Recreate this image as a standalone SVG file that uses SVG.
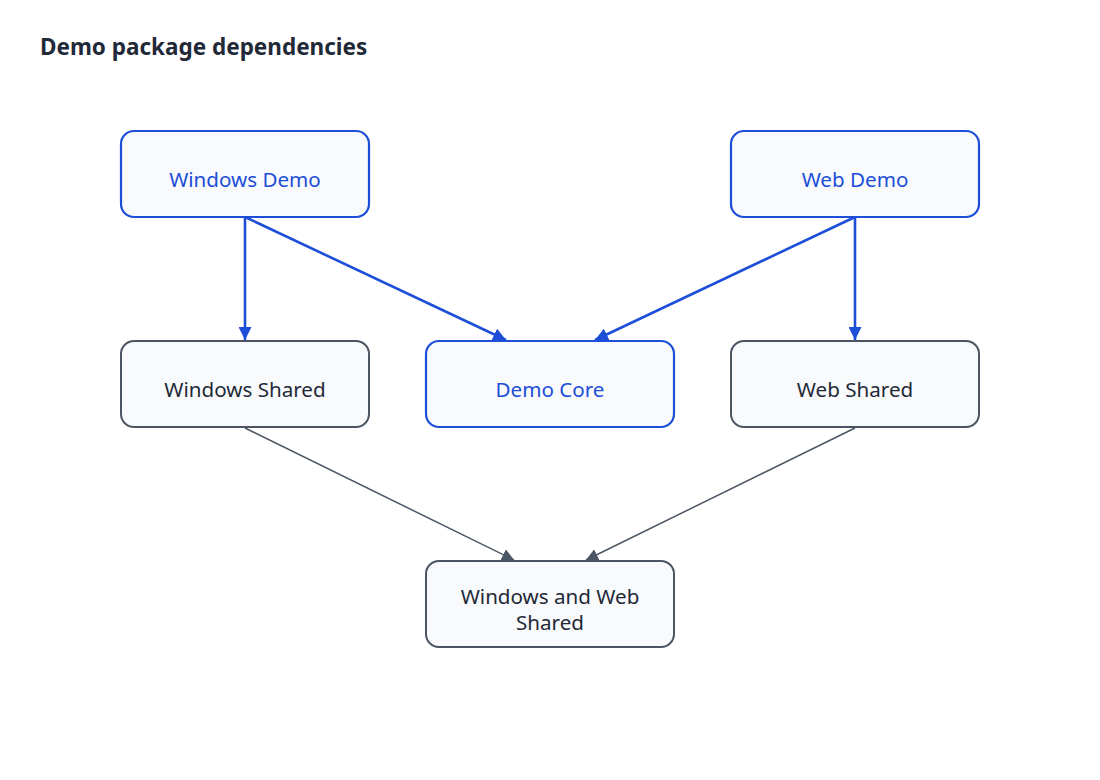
<svg xmlns="http://www.w3.org/2000/svg" width="1100" height="780" viewBox="0 0 1100 780">
<style>
.t{font-family:"Noto Sans","Open Sans",sans-serif;font-size:20.6px;text-anchor:middle}
.b rect{fill:#f8fafc;stroke:#1d4ed8;stroke-width:2.2}
.b text{fill:#1d4ed8}
.g rect{fill:#f8fafc;stroke:#4b5563;stroke-width:2}
.g text{fill:#1f2937}
.eb{stroke:#1d4ed8;stroke-width:2.6;fill:none;marker-end:url(#ab)}
.eg{stroke:#4b5563;stroke-width:1.5;fill:none;marker-end:url(#ag)}
</style>
<defs>
<marker id="ab" viewBox="0 0 10 10" refX="10" refY="5" markerWidth="5" markerHeight="5" orient="auto" markerUnits="strokeWidth"><path d="M0,0L10,5L0,10z" fill="#1d4ed8"/></marker>
<marker id="ag" viewBox="0 0 10 10" refX="10" refY="5" markerWidth="8" markerHeight="8" orient="auto" markerUnits="strokeWidth"><path d="M0,0L10,5L0,10z" fill="#4b5563"/></marker>
</defs>
<rect width="1100" height="780" fill="#fff"/>
<text x="40" y="55" font-family="'Noto Sans','Open Sans',sans-serif" font-size="22.5" font-weight="bold" fill="#1f2937">Demo package dependencies</text>
<g id="edges">
<line class="eb" x1="245" y1="217" x2="245" y2="340"/>
<line class="eb" x1="245" y1="217" x2="506" y2="340"/>
<line class="eb" x1="855" y1="217" x2="595" y2="340"/>
<line class="eb" x1="855" y1="217" x2="855" y2="340"/>
<line class="eg" x1="245" y1="428" x2="514" y2="560"/>
<line class="eg" x1="855" y1="428" x2="586" y2="560"/>
</g>
<g id="windows-demo" class="b t"><rect x="121" y="131" width="248" height="86" rx="13"/><text x="245" y="187">Windows Demo</text></g>
<g id="web-demo" class="b t"><rect x="731" y="131" width="248" height="86" rx="13"/><text x="855" y="187">Web Demo</text></g>
<g id="windows-shared" class="g t"><rect x="121" y="341" width="248" height="86" rx="13"/><text x="245" y="397">Windows Shared</text></g>
<g id="demo-core" class="b t"><rect x="426" y="341" width="248" height="86" rx="13"/><text x="550" y="397">Demo Core</text></g>
<g id="web-shared" class="g t"><rect x="731" y="341" width="248" height="86" rx="13"/><text x="855" y="397">Web Shared</text></g>
<g id="windows-web-shared" class="g t"><rect x="426" y="561" width="248" height="86" rx="13"/><text x="550" y="604">Windows and Web</text><text x="550" y="630">Shared</text></g>
</svg>
